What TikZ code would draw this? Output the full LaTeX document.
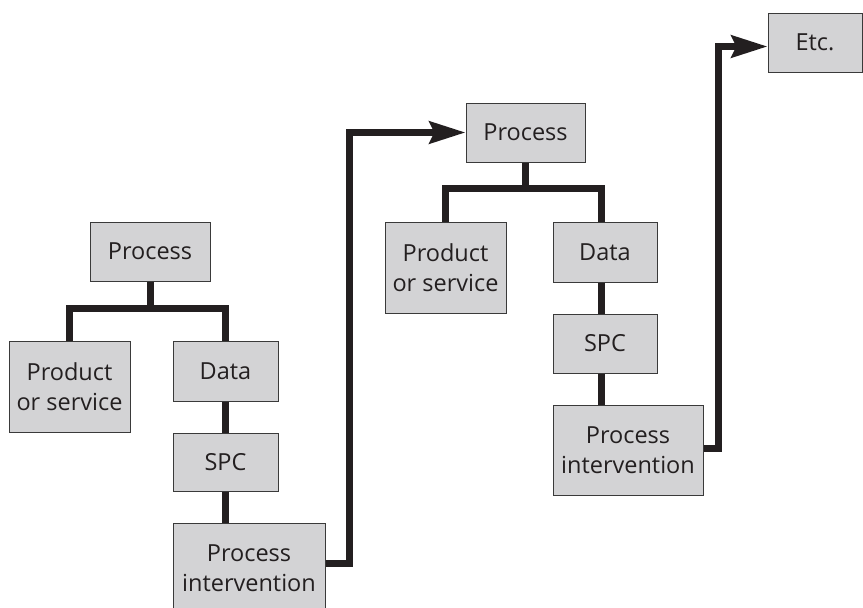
\documentclass[tikz,border=0pt]{standalone}
\usepackage{fontspec}
\setmainfont{Open Sans}
\usetikzlibrary{arrows.meta}
\definecolor{boxfill}{HTML}{D3D3D5}
\definecolor{boxline}{HTML}{3A3A3A}
\definecolor{ink}{HTML}{231F20}
\begin{document}
\begin{tikzpicture}[x=1pt,y=-1pt,
  box/.style={draw=boxline, fill=boxfill, line width=1pt, inner sep=0pt, align=center,
    font=\fontsize{23.5}{30}\selectfont, text=ink},
  conn/.style={draw=ink, line width=7pt},
  arr/.style={conn, -{Stealth[length=36pt,width=22pt,inset=5pt]}}]
\useasboundingbox (0,0) rectangle (863,608);
\clip (0,0) rectangle (863,608);
% left group
\node[box, minimum width=120pt, minimum height=59pt] (p1) at (150,251.5) {Process};
\node[box, minimum width=121pt, minimum height=91pt] (ps1) at (69.5,386.5) {Product\\or service};
\node[box, minimum width=105pt, minimum height=60pt] (d1) at (225.5,371) {Data};
\node[box, minimum width=105pt, minimum height=58pt] (s1) at (225.5,462) {SPC};
\node[box, minimum width=152pt, minimum height=90pt] (pi1) at (249,568) {Process\\intervention};
% middle group
\node[box, minimum width=119pt, minimum height=59pt] (p2) at (525.5,132.5) {Process};
\node[box, minimum width=121pt, minimum height=91pt] (ps2) at (445.5,267.5) {Product\\or service};
\node[box, minimum width=104pt, minimum height=60pt] (d2) at (605,252) {Data};
\node[box, minimum width=104pt, minimum height=59pt] (s2) at (605,343.5) {SPC};
\node[box, minimum width=150pt, minimum height=90pt] (pi2) at (628,450) {Process\\intervention};
% etc
\node[box, minimum width=94pt, minimum height=59pt] (etc) at (815,42.5) {Etc.};
% left connectors
\draw[conn] (p1.south) -- ++(0,26.5) coordinate (j1) -| (ps1.north);
\draw[conn] (j1) -| (d1.north);
\draw[conn] (d1.south) -- (s1.north);
\draw[conn] (s1.south) -- (s1.south |- pi1.north);
% middle connectors
\draw[conn] (p2.south) -- ++(0,26) coordinate (j2) -| (ps2.north);
\draw[conn] (j2) -| ([xshift=-4pt]d2.north);
\draw[conn] ([xshift=-4pt]d2.south) -- ([xshift=-4pt]s2.north);
\draw[conn] ([xshift=-4pt]s2.south) -- ([xshift=-4pt]s2.south |- pi2.north);
% arrows
\draw[arr] ([yshift=5pt]pi1.east) -- ++(24,0) |- (p2.west);
\draw[arr] ([yshift=2pt]pi2.east) -- ++(15,0) |- ([yshift=-4pt]etc.west);
\end{tikzpicture}
\end{document}
